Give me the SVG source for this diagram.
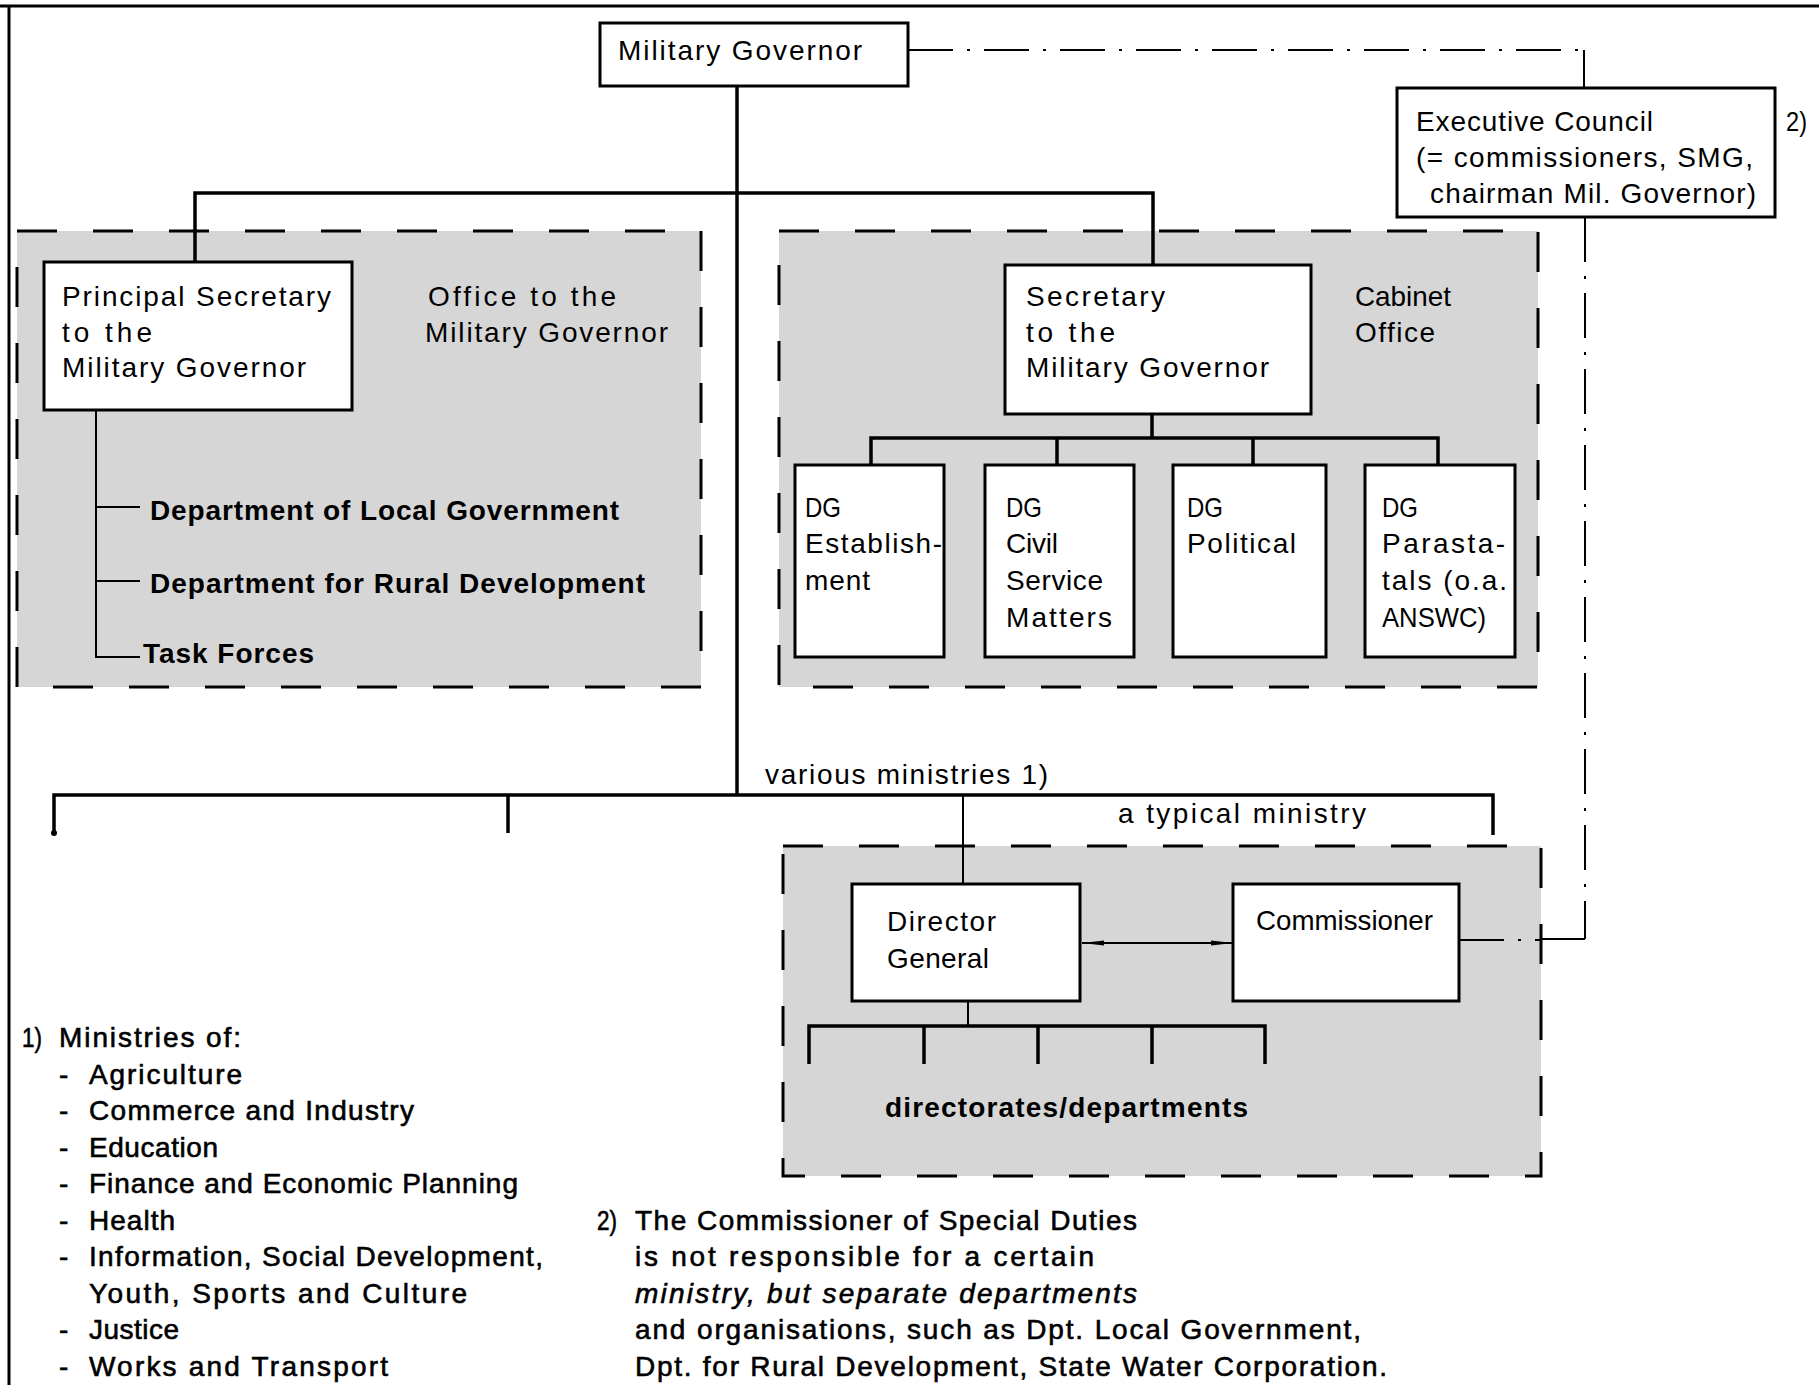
<svg xmlns="http://www.w3.org/2000/svg" width="1819" height="1385" viewBox="0 0 1819 1385">
<style>
.t{font-family:"Liberation Sans",Arial,sans-serif;font-size:28px;fill:#000}
.b{font-weight:bold}
.fn{stroke:#000;stroke-width:0.6}
.i{font-style:italic}
.box{fill:#fff;stroke:#000;stroke-width:3}
.area{fill:#d6d6d6;stroke:#000;stroke-width:3;stroke-dasharray:40 36}
.ln{fill:none;stroke:#000;stroke-width:3.5}
.thin{fill:none;stroke:#000;stroke-width:2}
.dd{fill:none;stroke:#000;stroke-width:2;stroke-dasharray:45 14 3 14}
</style>
<defs>
<marker id="ah" viewBox="0 0 22 8" refX="22" refY="4" markerWidth="22" markerHeight="8" markerUnits="userSpaceOnUse" orient="auto-start-reverse">
<path d="M0,1.5 L22,4 L0,6.5 z" fill="#000"/>
</marker>
</defs>
<rect width="1819" height="1385" fill="#fff"/>
<g id="frame">
<line x1="0" y1="6" x2="1819" y2="6" stroke="#000" stroke-width="3"/>
<line x1="9" y1="6" x2="9" y2="1385" stroke="#000" stroke-width="3"/>
</g>
<g id="area-office">
<rect class="area" x="17" y="231" width="684" height="456"/>
<text class="t" x="428" y="306" textLength="188" lengthAdjust="spacing">Office to the</text>
<text class="t" x="425" y="342" textLength="243" lengthAdjust="spacing">Military Governor</text>
</g>
<g id="area-cabinet">
<rect class="area" x="779" y="231" width="759" height="456"/>
<text class="t" x="1355" y="306" textLength="96" lengthAdjust="spacingAndGlyphs">Cabinet</text>
<text class="t" x="1355" y="342" textLength="80" lengthAdjust="spacing">Office</text>
</g>
<g id="area-ministry">
<rect class="area" x="783" y="846" width="758" height="330"/>
<text class="t b" x="885" y="1117" textLength="363" lengthAdjust="spacing">directorates/departments</text>
</g>
<g id="connectors">
<path class="ln" d="M737 86 V795"/>
<path class="ln" d="M195 262 V193 H1153 V265"/>
<path class="thin" d="M96 410 V657 H140 M96 507 H140 M96 581 H140"/>
<path class="ln" d="M1152 414 V438 M871 465 V438 H1438 V465 M1057 438 V465 M1253 438 V465"/>
<path class="ln" d="M54 833 V795 H1493 V835 M508 795 V833"/>
<circle cx="54" cy="833" r="3"/>
<path class="thin" d="M963 795 V884"/>
<path class="thin" d="M968 1001 V1026"/>
<path class="ln" d="M809 1064 V1026 H1265 V1064 M924 1026 V1064 M1038 1026 V1064 M1152 1026 V1064"/>
<path class="thin" d="M1082 943 H1233" marker-start="url(#ah)" marker-end="url(#ah)"/>
<path class="dd" d="M908 50 H1583"/>
<path class="thin" d="M1584 50 V88"/>
<path class="dd" d="M1585 217 V939"/>
<path class="thin" d="M1585 939 H1541"/>
<path class="thin" d="M1460 940 H1541" stroke-dasharray="44 14 3 14"/>
</g>
<g id="military-governor">
<rect class="box" x="600" y="23" width="308" height="63"/>
<text class="t" x="618" y="60" textLength="244" lengthAdjust="spacing">Military Governor</text>
</g>
<g id="executive-council">
<rect class="box" x="1397" y="88" width="378" height="129"/>
<text class="t" x="1416" y="131" textLength="237" lengthAdjust="spacing">Executive Council</text>
<text class="t" x="1416" y="167" textLength="337" lengthAdjust="spacing">(= commissioners, SMG,</text>
<text class="t" x="1430" y="203" textLength="326" lengthAdjust="spacing">chairman Mil. Governor)</text>
<text class="t" x="1786" y="131" textLength="21" lengthAdjust="spacingAndGlyphs">2)</text>
</g>
<g id="principal-secretary">
<rect class="box" x="44" y="262" width="308" height="148"/>
<text class="t" x="62" y="306" textLength="269" lengthAdjust="spacing">Principal Secretary</text>
<text class="t" x="62" y="342" textLength="90" lengthAdjust="spacing">to the</text>
<text class="t" x="62" y="377" textLength="244" lengthAdjust="spacing">Military Governor</text>
</g>
<g id="dept-local-government">
<text class="t b" x="150" y="520" textLength="469" lengthAdjust="spacing">Department of Local Government</text>
</g>
<g id="dept-rural-development">
<text class="t b" x="150" y="593" textLength="495" lengthAdjust="spacing">Department for Rural Development</text>
</g>
<g id="task-forces">
<text class="t b" x="143" y="663" textLength="171" lengthAdjust="spacing">Task Forces</text>
</g>
<g id="secretary">
<rect class="box" x="1005" y="265" width="306" height="149"/>
<text class="t" x="1026" y="306" textLength="139" lengthAdjust="spacing">Secretary</text>
<text class="t" x="1026" y="342" textLength="89" lengthAdjust="spacing">to the</text>
<text class="t" x="1026" y="377" textLength="243" lengthAdjust="spacing">Military Governor</text>
</g>
<g id="dg-establishment">
<rect class="box" x="795" y="465" width="149" height="192"/>
<text class="t" x="805" y="517" textLength="36" lengthAdjust="spacingAndGlyphs">DG</text>
<text class="t" x="805" y="553" textLength="137" lengthAdjust="spacing">Establish-</text>
<text class="t" x="805" y="590" textLength="65" lengthAdjust="spacing">ment</text>
</g>
<g id="dg-civil-service">
<rect class="box" x="985" y="465" width="149" height="192"/>
<text class="t" x="1006" y="517" textLength="36" lengthAdjust="spacingAndGlyphs">DG</text>
<text class="t" x="1006" y="553" textLength="52" lengthAdjust="spacing">Civil</text>
<text class="t" x="1006" y="590" textLength="97" lengthAdjust="spacing">Service</text>
<text class="t" x="1006" y="627" textLength="106" lengthAdjust="spacing">Matters</text>
</g>
<g id="dg-political">
<rect class="box" x="1173" y="465" width="153" height="192"/>
<text class="t" x="1187" y="517" textLength="36" lengthAdjust="spacingAndGlyphs">DG</text>
<text class="t" x="1187" y="553" textLength="109" lengthAdjust="spacing">Political</text>
</g>
<g id="dg-parastatals">
<rect class="box" x="1365" y="465" width="150" height="192"/>
<text class="t" x="1382" y="517" textLength="36" lengthAdjust="spacingAndGlyphs">DG</text>
<text class="t" x="1382" y="553" textLength="123" lengthAdjust="spacing">Parasta-</text>
<text class="t" x="1382" y="590" textLength="125" lengthAdjust="spacing">tals (o.a.</text>
<text class="t" x="1382" y="627" textLength="104" lengthAdjust="spacingAndGlyphs">ANSWC)</text>
</g>
<g id="labels">
<text class="t" x="765" y="784" textLength="283" lengthAdjust="spacing">various ministries 1)</text>
<text class="t" x="1118" y="823" textLength="248" lengthAdjust="spacing">a typical ministry</text>
</g>
<g id="director-general">
<rect class="box" x="852" y="884" width="228" height="117"/>
<text class="t" x="887" y="931" textLength="109" lengthAdjust="spacing">Director</text>
<text class="t" x="887" y="968" textLength="102" lengthAdjust="spacing">General</text>
</g>
<g id="commissioner">
<rect class="box" x="1233" y="884" width="226" height="117"/>
<text class="t" x="1256" y="930" textLength="177" lengthAdjust="spacingAndGlyphs">Commissioner</text>
</g>
<g id="footnote-1">
<text class="t fn" x="22" y="1047" textLength="20" lengthAdjust="spacingAndGlyphs">1)</text>
<text class="t fn" x="59" y="1047" textLength="182" lengthAdjust="spacing">Ministries of:</text>
<text class="t fn" x="59" y="1083.5">-</text>
<text class="t fn" x="89" y="1083.5" textLength="153" lengthAdjust="spacing">Agriculture</text>
<text class="t fn" x="59" y="1120">-</text>
<text class="t fn" x="89" y="1120" textLength="325" lengthAdjust="spacing">Commerce and Industry</text>
<text class="t fn" x="59" y="1156.5">-</text>
<text class="t fn" x="89" y="1156.5" textLength="129" lengthAdjust="spacing">Education</text>
<text class="t fn" x="59" y="1193">-</text>
<text class="t fn" x="89" y="1193" textLength="429" lengthAdjust="spacing">Finance and Economic Planning</text>
<text class="t fn" x="59" y="1229.5">-</text>
<text class="t fn" x="89" y="1229.5" textLength="86" lengthAdjust="spacing">Health</text>
<text class="t fn" x="59" y="1266">-</text>
<text class="t fn" x="89" y="1266" textLength="454" lengthAdjust="spacing">Information, Social Development,</text>
<text class="t fn" x="89" y="1302.5" textLength="378" lengthAdjust="spacing">Youth, Sports and Culture</text>
<text class="t fn" x="59" y="1339">-</text>
<text class="t fn" x="89" y="1339" textLength="90" lengthAdjust="spacing">Justice</text>
<text class="t fn" x="59" y="1375.5">-</text>
<text class="t fn" x="89" y="1375.5" textLength="299" lengthAdjust="spacing">Works and Transport</text>
</g>
<g id="footnote-2">
<text class="t fn" x="597" y="1229.5" textLength="20" lengthAdjust="spacingAndGlyphs">2)</text>
<text class="t fn" x="635" y="1229.5" textLength="502" lengthAdjust="spacing">The Commissioner of Special Duties</text>
<text class="t fn" x="635" y="1266" textLength="459" lengthAdjust="spacing">is not responsible for a certain</text>
<text class="t fn i" x="635" y="1302.5" textLength="502" lengthAdjust="spacing">ministry, but separate departments</text>
<text class="t fn" x="635" y="1339" textLength="726" lengthAdjust="spacing">and organisations, such as Dpt. Local Government,</text>
<text class="t fn" x="635" y="1375.5" textLength="752" lengthAdjust="spacing">Dpt. for Rural Development, State Water Corporation.</text>
</g>
</svg>
